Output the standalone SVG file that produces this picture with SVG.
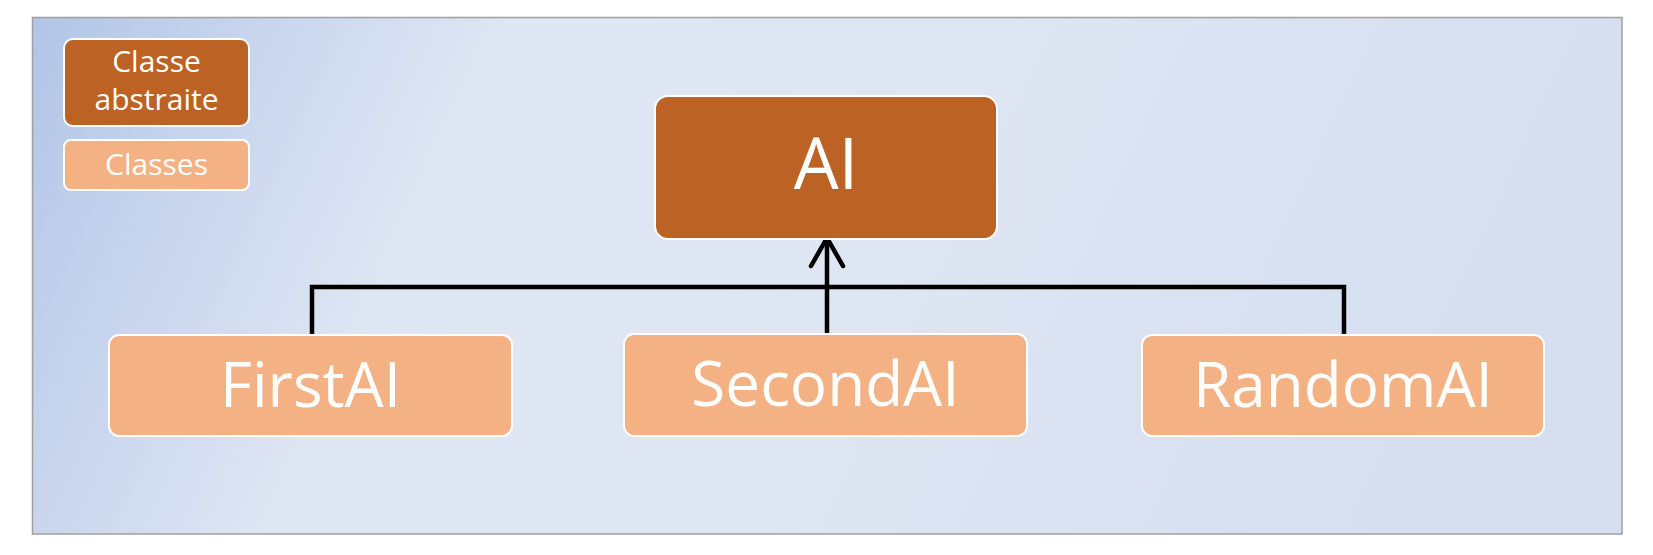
<svg xmlns="http://www.w3.org/2000/svg" width="1653" height="555" viewBox="0 0 1653 555">
  <defs>
    <linearGradient id="bg" x1="0" y1="0" x2="1" y2="0.15">
      <stop offset="0" stop-color="#b2c5e7"/>
      <stop offset="0.3" stop-color="#e0e7f4"/>
      <stop offset="0.6" stop-color="#dee5f3"/>
      <stop offset="1" stop-color="#d5dff0"/>
    </linearGradient>
  </defs>
  <style>
    .dark { fill: #bc6224; stroke: #ffffff; stroke-width: 2; }
    .light { fill: #f4b183; stroke: #ffffff; stroke-width: 2; }
    .t { fill: #ffffff; font-family: "Open Sans", "Liberation Sans", sans-serif; text-anchor: middle; }
    .conn { fill: none; stroke: #000000; stroke-width: 4.5; stroke-linecap: round; stroke-linejoin: miter; }
  </style>
  <rect x="0" y="0" width="1653" height="555" fill="#ffffff"/>
  <rect x="32.5" y="17.5" width="1589.5" height="516.5" fill="url(#bg)" stroke="#a0a0a0" stroke-width="1.5"/>

  <g id="legend-abstract">
    <rect class="dark" x="64" y="39" width="185" height="87" rx="9"/>
    <text class="t" x="156.5" y="72" font-size="30">Classe</text>
    <text class="t" x="156.5" y="110" font-size="30">abstraite</text>
  </g>
  <g id="legend-classes">
    <rect class="light" x="64" y="140" width="185" height="50" rx="7"/>
    <text class="t" x="156.5" y="175" font-size="30">Classes</text>
  </g>

  <g id="connectors">
    <path class="conn" d="M312 334 V287 H1344 V334" stroke-linecap="butt"/>
    <line class="conn" x1="827" y1="333" x2="827" y2="238" stroke-linecap="butt"/>
    <polyline class="conn" points="811,266 827,238 843,266" stroke-width="5"/>
  </g>

  <g id="node-AI">
    <rect class="dark" x="655" y="96" width="342" height="143" rx="13"/>
    <text class="t" x="826" y="189" font-size="71">AI</text>
  </g>
  <g id="node-FirstAI">
    <rect class="light" x="109" y="335" width="403" height="101" rx="10"/>
    <text class="t" x="310.5" y="407" font-size="62">FirstAI</text>
  </g>
  <g id="node-SecondAI">
    <rect class="light" x="624" y="334" width="403" height="102" rx="10"/>
    <text class="t" x="825.5" y="406" font-size="62">SecondAI</text>
  </g>
  <g id="node-RandomAI">
    <rect class="light" x="1142" y="335" width="402" height="101" rx="10"/>
    <text class="t" x="1343" y="407" font-size="62">RandomAI</text>
  </g>
</svg>
